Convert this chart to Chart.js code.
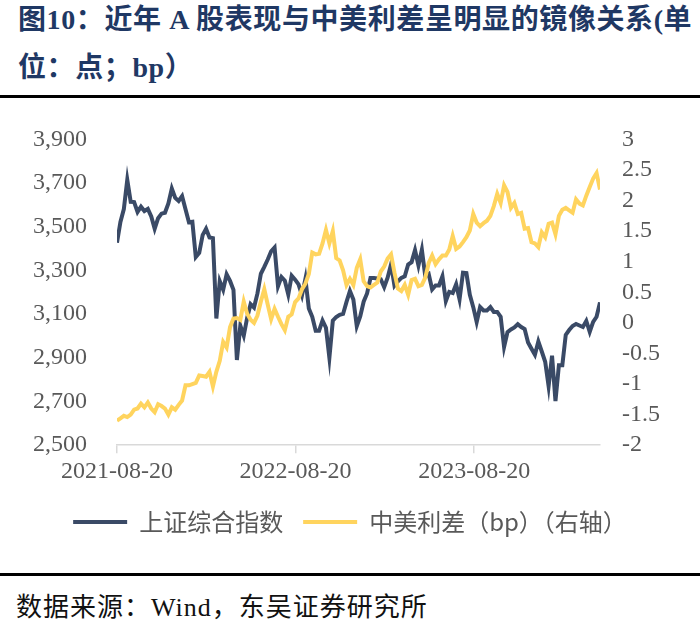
<!DOCTYPE html>
<html>
<head>
<meta charset="utf-8">
<script src="https://cdn.jsdelivr.net/npm/chart.js@4.4.1/dist/chart.umd.min.js"></script>
<style>
  body { margin: 0; background: #fff; }
  #page { position: relative; width: 700px; height: 620px; overflow: hidden; background: #fff; }
  .title { position: absolute; left: 18px; top: -4px; width: 690px; font: bold 28px "Liberation Serif", "Noto Sans CJK SC"; letter-spacing: 0.6px; line-height: 48px; color: #1F3864; white-space: nowrap; }
  .rule { position: absolute; left: 0; width: 700px; height: 3px; background: #000; }
  .source { position: absolute; left: 16px; top: 586px; font: 26px "Liberation Serif", "Noto Sans CJK SC"; letter-spacing: 1px; color: #111; white-space: nowrap; }
  #wrap { position: absolute; left: 0; top: 95px; width: 700px; height: 465px; }
</style>
</head>
<body>
<div id="page">
  <div class="title">图10：近年 A 股表现与中美利差呈明显的镜像关系(单<br>位：点；bp）</div>
  <div class="rule" style="top:95px"></div>
  <div id="wrap"><canvas id="chart"></canvas></div>
  <div class="rule" style="top:573px"></div>
  <div class="source">数据来源：Wind，东吴证券研究所</div>
</div>
<script>
// 起始日期，数据按周取样（每 7 天一个点）
const startDate = '2021-08-20';
const stepDays = 7;

// 横轴刻度标签
const tickLabels = ['2021-08-20', '2022-08-20', '2023-08-20'];

// 上证综合指数（左轴，点）
const shIndex = [
  3427, 3522, 3581, 3715, 3614, 3613, 3568, 3592, 3572, 3582,
  3547, 3491, 3539, 3560, 3564, 3607, 3675, 3632, 3618, 3640,
  3580, 3521, 3523, 3361, 3380, 3462, 3491, 3451, 3448, 3080,
  3251, 3212, 3282, 3252, 3211, 2890, 3047, 3001, 3084, 3146,
  3130, 3195, 3285, 3316, 3350, 3388, 3405, 3228, 3270, 3253,
  3190, 3276, 3258, 3236, 3186, 3262, 3126, 3088, 3024, 3024,
  3071, 3038, 2900, 3070, 3087, 3097, 3101, 3156, 3206, 3167,
  3045, 3089, 3157, 3195, 3265, 3265, 3263, 3260, 3224, 3267,
  3328, 3230, 3250, 3266, 3273, 3327, 3338, 3393, 3323, 3395,
  3272, 3283, 3213, 3231, 3231, 3273, 3160, 3202, 3197, 3237,
  3168, 3290, 3288, 3189, 3132, 3064, 3133, 3117, 3117, 3132,
  3110, 3110, 3088, 2950, 3018, 3030, 3039, 3054, 3041, 3032,
  2970, 2942, 2914, 2975, 2929, 2882, 2770, 2910, 2702, 2866,
  2866, 3005, 3027, 3046, 3055, 3048, 3041, 3069, 3019, 3065,
  3088, 3154
];

// 中美利差（右轴）
const spread = [
  -1.60, -1.56, -1.52, -1.54, -1.50, -1.42, -1.40, -1.32, -1.38, -1.30,
  -1.40, -1.46, -1.33, -1.36, -1.40, -1.50, -1.38, -1.42, -1.34, -1.27,
  -1.02, -1.02, -1.00, -0.98, -0.86, -0.87, -0.88, -0.80, -1.04, -0.80,
  -0.62, -0.31, -0.40, -0.07, 0.07, 0.08, 0.05, 0.35, 0.15, 0.05,
  0.00, 0.12, 0.35, 0.55, 0.30, 0.06, 0.23, 0.10, -0.02, -0.12,
  0.10, 0.14, 0.34, 0.40, 0.55, 0.64, 0.80, 1.15, 1.12, 1.13,
  1.30, 1.52, 1.30, 1.50, 1.06, 1.02, 0.86, 0.62, 0.72, 0.62,
  0.90, 1.04, 0.68, 0.60, 0.58, 0.62, 0.66, 0.84, 0.92, 1.05,
  1.12, 0.82, 0.56, 0.52, 0.62, 0.46, 0.70, 0.72, 0.60, 0.62,
  0.74, 0.98, 1.10, 0.96, 1.04, 1.10, 1.10, 1.20, 1.42, 1.21,
  1.25, 1.32, 1.40, 1.51, 1.78, 1.64, 1.58, 1.63, 1.67, 1.75,
  1.91, 2.11, 1.96, 2.25, 2.14, 1.88, 1.96, 1.78, 1.80, 1.54,
  1.55, 1.32, 1.30, 1.24, 1.48, 1.40, 1.62, 1.64, 1.45, 1.75,
  1.85, 1.88, 1.84, 1.80, 2.02, 1.95, 1.92, 2.08, 2.22, 2.36,
  2.45, 2.18
];

// 日期换算成距起始日的天数
const dayMs = 24 * 3600 * 1000;
const daysFromStart = d => Math.round((Date.parse(d) - Date.parse(startDate)) / dayMs);
const tickDays = tickLabels.map(daysFromStart);
const lastDay = (shIndex.length - 1) * stepDays;

const toPoints = arr => arr.map((v, i) => ({ x: i * stepDays, y: v }));

const axisFont = { family: 'Liberation Serif', size: 24 };
const grey = '#595959';

new Chart(document.getElementById('chart'), {
  type: 'line',
  data: {
    datasets: [{
      label: '上证综合指数',
      data: toPoints(shIndex),
      borderColor: '#3A4A66',
      backgroundColor: '#3A4A66',
      borderWidth: 4,
      pointRadius: 0,
      tension: 0,
      yAxisID: 'y',
      order: 2
    }, {
      label: '中美利差（bp）（右轴）',
      data: toPoints(spread),
      borderColor: '#FFD45E',
      backgroundColor: '#FFD45E',
      borderWidth: 4,
      pointRadius: 0,
      tension: 0,
      yAxisID: 'y1',
      order: 1
    }]
  },
  options: {
    responsive: true,
    maintainAspectRatio: false,
    animation: false,
    layout: { padding: { top: 25, bottom: 16, left: 0, right: 0 } },
    plugins: {
      tooltip: { enabled: false },
      legend: {
        position: 'bottom',
        labels: {
          usePointStyle: true,
          pointStyle: 'line',
          pointStyleWidth: 54,
          font: { family: 'Noto Sans CJK SC', size: 24 },
          color: grey,
          padding: 20,
          sort: (a, b) => a.datasetIndex - b.datasetIndex
        }
      }
    },
    scales: {
      x: {
        type: 'linear',
        min: 0,
        max: lastDay,
        afterBuildTicks: s => { s.ticks = tickDays.map(v => ({ value: v })); },
        ticks: {
          autoSkip: false,
          maxRotation: 0,
          padding: 4,
          font: axisFont,
          color: grey,
          callback: (v, i) => tickLabels[i]
        },
        grid: { drawOnChartArea: false, tickLength: 8, color: '#d9d9d9', lineWidth: 1.5 },
        border: { color: '#d9d9d9', width: 1.5 }
      },
      y: {
        position: 'left',
        min: 2500,
        max: 3900,
        afterFit: s => { s.width = 117; },
        ticks: {
          autoSkip: false,
          stepSize: 200,
          padding: 30,
          font: axisFont,
          color: grey,
          callback: v => v.toLocaleString('en-US')
        },
        grid: { display: false, drawTicks: false },
        border: { display: false }
      },
      y1: {
        position: 'right',
        min: -2,
        max: 3,
        afterFit: s => { s.width = 100; },
        ticks: {
          autoSkip: false,
          stepSize: 0.5,
          padding: 22,
          font: axisFont,
          color: grey,
          callback: v => String(v)
        },
        grid: { display: false, drawTicks: false },
        border: { display: false }
      }
    }
  }
});
</script>
</body>
</html>
